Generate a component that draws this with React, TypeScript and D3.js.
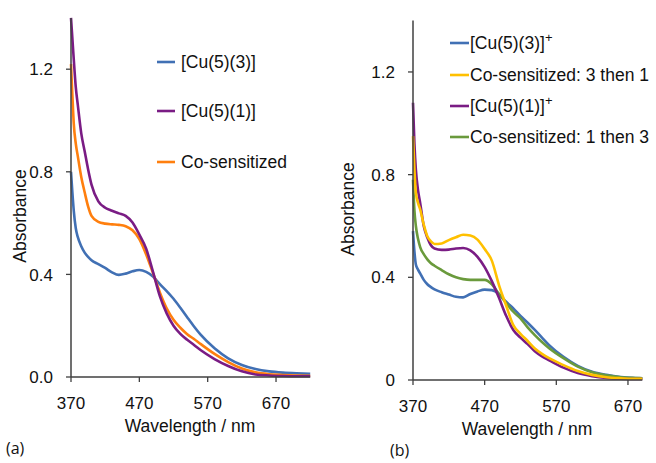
import React from "react";
import * as d3 from "d3";

// ---------- Panel (a) data ----------
const wlA = [370, 372, 374, 377, 380, 385, 390, 395, 400, 410, 420, 430, 440, 450, 460, 470, 480, 490, 500, 510, 520, 530, 540, 550, 560, 580, 600, 620, 640, 660, 680, 700, 720];
const cu53A = [0.8, 0.72, 0.65, 0.58, 0.545, 0.51, 0.485, 0.468, 0.455, 0.44, 0.425, 0.408, 0.398, 0.403, 0.412, 0.417, 0.41, 0.392, 0.362, 0.335, 0.305, 0.27, 0.233, 0.197, 0.164, 0.112, 0.073, 0.047, 0.031, 0.022, 0.017, 0.014, 0.012];
const cu51A = [1.4, 1.32, 1.24, 1.13, 1.06, 0.95, 0.88, 0.81, 0.75, 0.685, 0.66, 0.648, 0.638, 0.628, 0.602, 0.555, 0.5, 0.41, 0.315, 0.248, 0.2, 0.168, 0.145, 0.125, 0.104, 0.07, 0.043, 0.022, 0.01, 0.006, 0.004, 0.003, 0.003];
const coA = [1.22, 1.1, 0.99, 0.91, 0.86, 0.78, 0.72, 0.665, 0.628, 0.605, 0.598, 0.595, 0.593, 0.588, 0.572, 0.538, 0.478, 0.405, 0.33, 0.268, 0.223, 0.192, 0.167, 0.148, 0.128, 0.09, 0.058, 0.033, 0.018, 0.011, 0.008, 0.006, 0.005];
const seriesNamesA = ["[Cu(5)(3)]", "[Cu(5)(1)]", "Co-sensitized"];

// ---------- Panel (b) data ----------
const wlB = [370, 372, 374, 377, 380, 385, 390, 395, 400, 410, 420, 430, 440, 450, 460, 470, 480, 490, 500, 510, 520, 530, 540, 550, 560, 580, 600, 620, 640, 660, 680, 690];
const cu53B = [0.58, 0.5, 0.45, 0.43, 0.415, 0.39, 0.373, 0.362, 0.353, 0.342, 0.333, 0.324, 0.322, 0.335, 0.345, 0.352, 0.35, 0.335, 0.305, 0.279, 0.25, 0.223, 0.195, 0.165, 0.136, 0.09, 0.055, 0.032, 0.02, 0.012, 0.008, 0.007];
const co31B = [0.95, 0.82, 0.73, 0.69, 0.665, 0.605, 0.56, 0.54, 0.53, 0.532, 0.545, 0.556, 0.566, 0.563, 0.547, 0.51, 0.465, 0.37, 0.29, 0.214, 0.18, 0.152, 0.123, 0.102, 0.085, 0.058, 0.035, 0.02, 0.011, 0.007, 0.005, 0.005];
const cu51B = [1.08, 0.92, 0.82, 0.74, 0.69, 0.6, 0.555, 0.525, 0.512, 0.507, 0.508, 0.512, 0.514, 0.505, 0.48, 0.44, 0.385, 0.32, 0.25, 0.195, 0.165, 0.14, 0.112, 0.092, 0.077, 0.048, 0.027, 0.015, 0.008, 0.005, 0.004, 0.004];
const co13B = [0.78, 0.66, 0.6, 0.55, 0.518, 0.49, 0.47, 0.455, 0.445, 0.428, 0.412, 0.4, 0.393, 0.39, 0.39, 0.39, 0.373, 0.335, 0.3, 0.266, 0.24, 0.205, 0.175, 0.148, 0.124, 0.085, 0.052, 0.03, 0.018, 0.011, 0.008, 0.007];
const seriesNamesB = ["[Cu(5)(3)]", "Co-sensitized: 3 then 1", "[Cu(5)(1)]", "Co-sensitized: 1 then 3"];
const superB = ["+", "", "+", ""];

const xTicks = [370, 470, 570, 670];
const yTicks = [0, 0.4, 0.8, 1.2];

const BLUE = "#4170B4";
const PURPLE = "#7A1C84";
const ORANGE = "#FF7F0E";
const YELLOW = "#FFC000";
const GREEN = "#6A9A3C";
const AXIS = "#404040";
const FONT = "'Liberation Sans', Arial, sans-serif";

type PanelProps = {
  xDomain: [number, number];
  xRange: [number, number];
  yRange: [number, number];
  wl: number[];
  series: { values: number[]; color: string }[];
  yFmt: (v: number) => string;
  titleX: number;
  ylabelX: number;
  ylabelY: number;
};

function Panel(p: PanelProps) {
  const x = d3.scaleLinear().domain(p.xDomain).range(p.xRange);
  const y = d3.scaleLinear().domain([0, 1.4]).range(p.yRange);
  const line = d3
    .line<[number, number]>()
    .x((d) => x(d[0]))
    .y((d) => y(d[1]))
    .curve(d3.curveMonotoneX);
  const x0 = p.xRange[0];
  const y0 = p.yRange[0];
  return (
    <g>
      {p.series.map((s, i) => (
        <path
          key={i}
          d={line(p.wl.map((w, j) => [w, s.values[j]] as [number, number])) || ""}
          fill="none"
          stroke={s.color}
          strokeWidth={2.6}
          strokeLinejoin="round"
        />
      ))}
      <line x1={x0} x2={x0} y1={y(0)} y2={y(1.4)} stroke={AXIS} strokeWidth={1.5} />
      <line x1={x0} x2={p.xRange[1]} y1={y0} y2={y0} stroke={AXIS} strokeWidth={1.5} />
      {yTicks.map((t) => (
        <g key={t}>
          <line x1={x0 - 5} x2={x0} y1={y(t)} y2={y(t)} stroke={AXIS} strokeWidth={1.3} />
          <text x={x0 - 18} y={y(t)} dy="0.36em" textAnchor="end" fontSize={17} fontFamily={FONT} fill="#111">
            {p.yFmt(t)}
          </text>
        </g>
      ))}
      {xTicks.map((t) => (
        <g key={t}>
          <line x1={x(t)} x2={x(t)} y1={y0} y2={y0 + 5} stroke={AXIS} strokeWidth={1.3} />
          <text x={x(t)} y={y0 + 26} dy="0.36em" textAnchor="middle" fontSize={17} fontFamily={FONT} fill="#111">
            {t}
          </text>
        </g>
      ))}
      <text x={p.titleX} y={y0 + 49} dy="0.36em" textAnchor="middle" fontSize={17.5} fontFamily={FONT} fill="#111">
        Wavelength / nm
      </text>
      <text
        transform={`translate(${p.ylabelX},${p.ylabelY}) rotate(-90)`}
        dy="0.36em"
        textAnchor="middle"
        fontSize={17.5}
        fontFamily={FONT}
        fill="#111"
      >
        Absorbance
      </text>
    </g>
  );
}

export default function App() {
  const colorsA = [BLUE, PURPLE, ORANGE];
  const legendYA = [62, 111, 162];
  const colorsB = [BLUE, YELLOW, PURPLE, GREEN];
  const legendYB = [43, 75, 106, 137];
  return (
    <svg width={656} height={463} style={{ position: "absolute", left: 0, top: 0, background: "#fff" }}>
      <rect width={656} height={463} fill="#fff" />
      <Panel
        xDomain={[370, 720]}
        xRange={[71, 310.2]}
        yRange={[377, 377 - 1.4 * 256.5]}
        wl={wlA}
        series={[
          { values: cu53A, color: BLUE },
          { values: coA, color: ORANGE },
          { values: cu51A, color: PURPLE },
        ]}
        yFmt={(v) => d3.format(".1f")(v)}
        titleX={190}
        ylabelX={20}
        ylabelY={216}
      />
      <Panel
        xDomain={[370, 690]}
        xRange={[413, 642.3]}
        yRange={[380, 380 - 1.4 * 256.7]}
        wl={wlB}
        series={[
          { values: cu53B, color: BLUE },
          { values: co13B, color: GREEN },
          { values: cu51B, color: PURPLE },
          { values: co31B, color: YELLOW },
        ]}
        yFmt={(v) => (v === 0 ? "0" : d3.format(".1f")(v))}
        titleX={527}
        ylabelX={348}
        ylabelY={209}
      />
      {seriesNamesA.map((n, i) => (
        <g key={n}>
          <line x1={157} x2={175} y1={legendYA[i]} y2={legendYA[i]} stroke={colorsA[i]} strokeWidth={2.6} />
          <text x={181} y={legendYA[i]} dy="0.36em" fontSize={17.5} fontFamily={FONT} fill="#111">
            {n}
          </text>
        </g>
      ))}
      {seriesNamesB.map((n, i) => (
        <g key={n}>
          <line x1={450} x2={469} y1={legendYB[i]} y2={legendYB[i]} stroke={colorsB[i]} strokeWidth={2.6} />
          <text x={470} y={legendYB[i]} dy="0.36em" fontSize={17.5} fontFamily={FONT} fill="#111">
            {n}
            {superB[i] && (
              <tspan fontSize={13} dy="-0.55em">
                {superB[i]}
              </tspan>
            )}
          </text>
        </g>
      ))}
      <text x={6} y={454} fontSize={16} fontFamily="'Open Sans', 'Noto Sans', sans-serif" fill="#111">
        (a)
      </text>
      <text x={390} y={456} fontSize={16} fontFamily="'Open Sans', 'Noto Sans', sans-serif" fill="#111">
        (b)
      </text>
    </svg>
  );
}
